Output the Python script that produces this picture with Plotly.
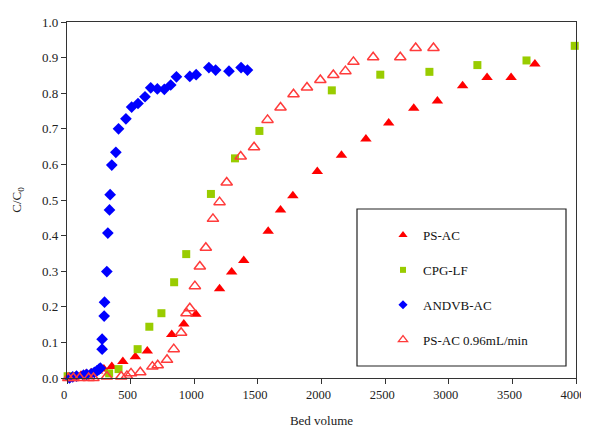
import plotly.graph_objects as go

# ---- data ----
andvb_x = [20, 45, 75, 130, 155, 190, 215, 235, 250, 262, 276, 276, 292, 295, 313, 321, 334, 339, 352, 384, 405, 463, 508, 558, 613, 658, 710, 765, 815, 860, 965, 1015, 1115, 1168, 1273, 1368, 1418]
andvb_y = [0.0, 0.003, 0.005, 0.008, 0.010, 0.012, 0.016, 0.020, 0.024, 0.028, 0.081, 0.109, 0.174, 0.213, 0.299, 0.407, 0.472, 0.515, 0.598, 0.634, 0.700, 0.728, 0.761, 0.771, 0.790, 0.815, 0.812, 0.811, 0.823, 0.846, 0.847, 0.852, 0.872, 0.865, 0.862, 0.872, 0.865]

psac_x = [15, 40, 70, 110, 150, 190, 240, 290, 352, 439, 537, 631, 823, 918, 1013, 1199, 1294, 1389, 1581, 1678, 1775, 1967, 2157, 2349, 2528, 2725, 2911, 3109, 3301, 3490, 3677]
psac_y = [0.0, 0.002, 0.005, 0.008, 0.012, 0.015, 0.020, 0.025, 0.032, 0.046, 0.060, 0.076, 0.122, 0.152, 0.179, 0.251, 0.298, 0.330, 0.412, 0.472, 0.512, 0.580, 0.626, 0.671, 0.716, 0.758, 0.778, 0.821, 0.844, 0.844, 0.882]

cpg_x = [5, 60, 331, 405, 555, 647, 742, 842, 937, 1131, 1320, 1512, 2081, 2462, 2848, 3225, 3611, 3990]
cpg_y = [0.005, 0.005, 0.013, 0.025, 0.081, 0.144, 0.182, 0.269, 0.348, 0.517, 0.617, 0.694, 0.808, 0.852, 0.860, 0.879, 0.892, 0.933]

ps096_x = [10, 50, 100, 170, 208, 313, 426, 471, 503, 576, 671, 713, 786, 839, 897, 939, 965, 1005, 1044, 1091, 1147, 1199, 1255, 1365, 1470, 1576, 1678, 1780, 1886, 1991, 2093, 2188, 2251, 2406, 2619, 2740, 2880]
ps096_y = [0.0, 0.0, 0.0, 0.0, 0.0, 0.004, 0.004, 0.006, 0.013, 0.016, 0.032, 0.036, 0.051, 0.081, 0.127, 0.182, 0.196, 0.258, 0.313, 0.366, 0.447, 0.494, 0.549, 0.622, 0.648, 0.725, 0.760, 0.797, 0.816, 0.837, 0.851, 0.862, 0.888, 0.901, 0.901, 0.927, 0.927]

names = ["PS-AC", "CPG-LF", "ANDVB-AC", "PS-AC 0.96mL/min"]

FONT = "Liberation Serif"

series = [
    (psac_x, psac_y, dict(symbol="triangle-up", size=10, color="#FF0000"),
     dict(symbol="triangle-up", size=8, color="#FF0000")),
    (cpg_x, cpg_y, dict(symbol="square", size=8, color="#99CC00"),
     dict(symbol="square", size=6, color="#99CC00")),
    (andvb_x, andvb_y, dict(symbol="diamond", size=9, color="#0000FF"),
     dict(symbol="diamond", size=7, color="#0000FF")),
    (ps096_x, ps096_y, dict(symbol="triangle-up-open", size=10, color="#FF3B3B", line=dict(width=1.5, color="#FF3B3B")),
     dict(symbol="triangle-up-open", size=8, color="#FF3B3B", line=dict(width=1.3, color="#FF3B3B"))),
]

fig = go.Figure()
for i, (xs, ys, mk, lmk) in enumerate(series):
    fig.add_trace(go.Scatter(x=xs, y=ys, mode="markers", name=names[i], showlegend=False,
                             marker=mk, cliponaxis=False))
for i, (xs, ys, mk, lmk) in enumerate(series):
    # legend-only entries with smaller symbols
    fig.add_trace(go.Scatter(x=[None], y=[None], mode="markers", name=names[i],
                             legendgroup="g%d" % i, marker=lmk, showlegend=True))

# page body has an 8px margin, so the figure is offset by 8px
W, H = 586, 420
L, R, T, B = 59, 18, 14, 50
PW, PH = W - L - R, H - T - B

fig.update_layout(
    width=W, height=H,
    margin=dict(l=L, r=R, t=T, b=B),
    paper_bgcolor="white", plot_bgcolor="white",
    font=dict(family=FONT, size=13, color="#222"),
    showlegend=True,
    legend=dict(x=(375 - L) / PW, y=(370 - 212) / PH, xanchor="left", yanchor="top",
                bgcolor="rgba(0,0,0,0)", borderwidth=0,
                font=dict(family=FONT, size=13, color="#111"),
                tracegroupgap=15),
    shapes=[dict(type="rect", xref="paper", yref="paper",
                 x0=(349 - L) / PW, x1=(558 - L) / PW, y0=(370 - 358) / PH, y1=(370 - 201) / PH,
                 line=dict(color="#222", width=1.2), fillcolor="rgba(0,0,0,0)")],
)

fig.update_xaxes(range=[0, 4000], dtick=500, tick0=0, showgrid=False, zeroline=False,
                 showline=True, linecolor="#333", linewidth=1.2, mirror=True,
                 ticks="outside", ticklen=5, tickcolor="#333", automargin=False,
                 ticklabelshift=-3,
                 title=dict(text="Bed volume", font=dict(family=FONT, size=13), standoff=14),
                 tickfont=dict(family=FONT, size=12.5))
fig.update_yaxes(range=[0, 1.0], dtick=0.1, tick0=0, tickformat=".1f", showgrid=False, zeroline=False,
                 showline=True, linecolor="#333", linewidth=1.2, mirror=True,
                 ticks="outside", ticklen=5, tickcolor="#333", automargin=False,
                 title=dict(text="C/C<sub>0</sub>", font=dict(family=FONT, size=13), standoff=17),
                 tickfont=dict(family=FONT, size=13))

fig.write_html("out.html")
